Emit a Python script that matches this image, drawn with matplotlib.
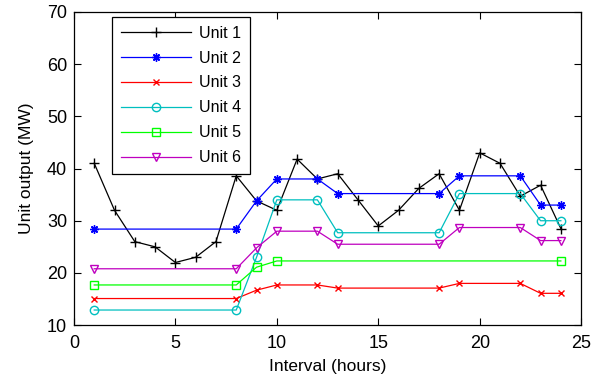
import matplotlib.pyplot as plt
import numpy as np

plt.rcParams['font.family'] = ['Liberation Sans', 'DejaVu Sans']

# hourly output of unit 1
hours = list(range(1, 25))
unit1 = [41, 32, 26, 25, 22, 23, 26, 38.6, 33.8, 32, 41.8, 38, 39, 34,
         29, 32, 36.2, 39, 32, 43, 41, 34.7, 36.8, 28.5]

# the other units are only given at the hours where they change
steps = [1, 8, 9, 10, 12, 13, 18, 19, 22, 23, 24]
unit2 = [28.4, 28.4, 33.8, 38, 38, 35.2, 35.2, 38.6, 38.6, 33, 33]
unit3 = [15.1, 15.1, 16.7, 17.7, 17.7, 17.1, 17.1, 18, 18, 16.1, 16.1]
unit4 = [12.9, 12.9, 23, 34, 34, 27.7, 27.7, 35.2, 35.2, 30, 30]
unit6 = [20.8, 20.8, 24.8, 28, 28, 25.5, 25.5, 28.7, 28.7, 26.2, 26.2]

steps5 = [1, 8, 9, 10, 24]
unit5 = [17.7, 17.7, 21.1, 22.3, 22.3]

fig = plt.figure(figsize=(6.06, 3.83), dpi=100)
ax = fig.add_axes([0.122, 0.151, 0.837, 0.818])

ax.plot(hours, unit1, color='k', marker='+', markersize=7, lw=0.9, label='Unit 1')
ax.plot(steps, unit2, color='b', marker=(8, 2, 0), markersize=6, mew=1, lw=0.9, label='Unit 2')
ax.plot(steps, unit3, color='r', marker='x', markersize=4, lw=0.9, label='Unit 3')
ax.plot(steps, unit4, color='c', marker='o', markersize=6, mfc='none', lw=0.9, label='Unit 4')
ax.plot(steps5, unit5, color='#00ff00', marker='s', markersize=6, mfc='none', lw=0.9, label='Unit 5')
ax.plot(steps, unit6, color='m', marker='v', markersize=6, mfc='none', lw=0.9, label='Unit 6')

ax.set_xlim(0, 25)
ax.set_ylim(10, 70)
ax.set_xticks([0, 5, 10, 15, 20, 25])
ax.set_yticks([10, 20, 30, 40, 50, 60, 70])
ax.tick_params(direction='in', top=True, right=True, length=5, labelsize=13)
ax.tick_params(axis='x', pad=7)
ax.tick_params(axis='y', pad=5)
for s in ax.spines.values():
    s.set_linewidth(0.9)

ax.set_xlabel('Interval (hours)', fontsize=12.5, labelpad=5)
ax.set_ylabel('Unit output (MW)', fontsize=12.5, labelpad=9)

leg = ax.legend(loc='upper left', bbox_to_anchor=(0.075, 0.984), borderaxespad=0,
                fontsize=11.5, fancybox=False, edgecolor='k', framealpha=1,
                handlelength=4.4, labelspacing=0.62, borderpad=0.55, handletextpad=0.5)
leg.get_frame().set_linewidth(0.9)

fig.savefig('out.png', dpi=100)
